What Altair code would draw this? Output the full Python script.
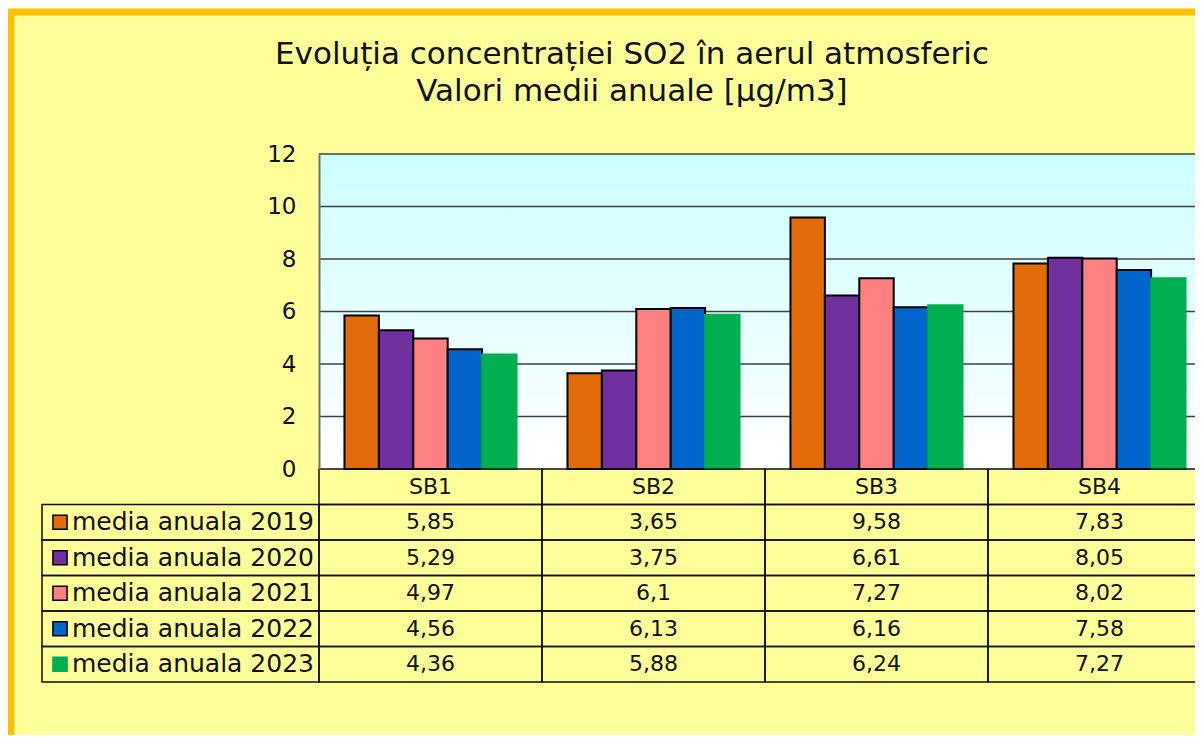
import altair as alt
import pandas as pd

stations = ["SB1", "SB2", "SB3", "SB4"]
years = ["2019", "2020", "2021", "2022", "2023"]
series_labels = ["media anuala 2019", "media anuala 2020", "media anuala 2021",
                 "media anuala 2022", "media anuala 2023"]
v2019 = [5.85, 3.65, 9.58, 7.83]
v2020 = [5.29, 3.75, 6.61, 8.05]
v2021 = [4.97, 6.1, 7.27, 8.02]
v2022 = [4.56, 6.13, 6.16, 7.58]
v2023 = [4.36, 5.88, 6.24, 7.27]
y_ticks = [0, 2, 4, 6, 8, 10, 12]
grid_lines = [2, 4, 6, 8, 10, 12]
title_lines = ["Evoluția concentrației SO2 în aerul atmosferic",
               "Valori medii anuale [µg/m3]"]

colors = ["#E36C0A", "#7030A0", "#FF8080", "#0066CC", "#00B050"]
strokes = ["#000000", "#000000", "#000000", "#000000", "#00B050"]
FONT = "DejaVu Sans"

series = [v2019, v2020, v2021, v2022, v2023]
rows = []
for yr, lab, vals in zip(years, series_labels, series):
    for st, v in zip(stations, vals):
        rows.append({"station": st, "year": yr, "row": lab, "value": v,
                     "label": ("%g" % v).replace(".", ",")})
df = pd.DataFrame(rows)
hdr = pd.DataFrame({"station": stations, "row": ["hdr"] * 4, "label": stations})
table_df = pd.concat([hdr, df[["station", "row", "label"]]], ignore_index=True)
legend_df = pd.DataFrame({"year": years, "row": series_labels})
grid_df = pd.DataFrame({"v": grid_lines})

W, H = 876, 315
x_scale = alt.Scale(domain=stations, range=[0, 892], paddingInner=0, paddingOuter=0)
row_domain = ["hdr"] + series_labels
ty_scale = alt.Scale(domain=row_domain, range=[315, 528], paddingInner=0, paddingOuter=0)
color_scale = alt.Scale(domain=years, range=colors)
stroke_scale = alt.Scale(domain=years, range=strokes)

frame = alt.Chart(pd.DataFrame({"a": [0]})).mark_rect(
    fill="#FFFF99", stroke="#FFC000", strokeWidth=7
).encode(x=alt.value(-308), x2=alt.value(1000), y=alt.value(-142), y2=alt.value(700))

plot_bg = alt.Chart(pd.DataFrame({"a": [0]})).mark_rect(
    color=alt.LinearGradient(
        gradient="linear",
        stops=[alt.GradientStop(color="#CCFFFF", offset=0),
               alt.GradientStop(color="#FFFFFF", offset=1)],
        x1=0, x2=0, y1=0, y2=1)
).encode(x=alt.value(0), x2=alt.value(1000), y=alt.value(0), y2=alt.value(H))

grid = alt.Chart(grid_df).mark_rule(color="#404040", strokeWidth=1.5).encode(
    y=alt.Y("v:Q", scale=alt.Scale(domain=[0, 12]), axis=None)
)

bars = alt.Chart(df).mark_bar(strokeWidth=2).encode(
    x=alt.X("station:N", scale=x_scale, axis=None),
    xOffset=alt.XOffset("year:N", scale=alt.Scale(domain=years, paddingOuter=0.74, paddingInner=0)),
    y=alt.Y("value:Q", scale=alt.Scale(domain=[0, 12]),
            axis=alt.Axis(values=y_ticks, grid=False, ticks=False, labelPadding=23,
                          labelFontSize=23, labelFont=FONT, labelColor="#111111",
                          domainColor="#707070", domainWidth=2, title=None, zindex=1)),
    color=alt.Color("year:N", scale=color_scale, legend=None),
    stroke=alt.Stroke("year:N", scale=stroke_scale, legend=None),
)

cells = alt.Chart(table_df).mark_rect(fillOpacity=0, stroke="#111111", strokeWidth=1.5).encode(
    x=alt.X("station:N", scale=x_scale, axis=None),
    y=alt.Y("row:N", scale=ty_scale, axis=None),
)
cell_text = alt.Chart(table_df).mark_text(font=FONT, fontSize=22, color="#111111", baseline="middle").encode(
    x=alt.X("station:N", scale=x_scale, axis=None),
    y=alt.Y("row:N", scale=ty_scale, axis=None),
    text="label:N",
)
leg_cells = alt.Chart(legend_df).mark_rect(fillOpacity=0, stroke="#111111", strokeWidth=1.5).encode(
    x=alt.value(-277), x2=alt.value(0),
    y=alt.Y("row:N", scale=ty_scale, axis=None),
)
leg_sw = alt.Chart(legend_df).mark_point(shape="square", filled=True, size=200, strokeWidth=1.5, opacity=1).encode(
    x=alt.value(-259),
    y=alt.Y("row:N", scale=ty_scale, axis=None),
    fill=alt.Color("year:N", scale=color_scale, legend=None),
    stroke=alt.Stroke("year:N", scale=stroke_scale, legend=None),
)
leg_text = alt.Chart(legend_df).mark_text(font=FONT, fontSize=25, color="#111111", align="left", baseline="middle").encode(
    x=alt.value(-247),
    y=alt.Y("row:N", scale=ty_scale, axis=None),
    text="row:N",
)
title = alt.Chart(pd.DataFrame({"a": [0]})).mark_text(
    text=title_lines, font=FONT, fontSize=31, color="#111111", align="center",
    baseline="alphabetic", lineHeight=37
).encode(x=alt.value(313), y=alt.value(-90))

chart = alt.layer(
    frame, plot_bg, grid, bars, cells, cell_text, leg_cells, leg_sw, leg_text, title
).resolve_scale(y="independent").properties(
    width=W, height=H,
    padding={"left": 311, "top": 146, "right": 0, "bottom": 266},
    autosize=alt.AutoSizeParams(type="none"),
    background="#FFFFFF",
).configure_view(stroke=None)

chart.save("out.html", embed_options={"renderer": "svg", "actions": False})
